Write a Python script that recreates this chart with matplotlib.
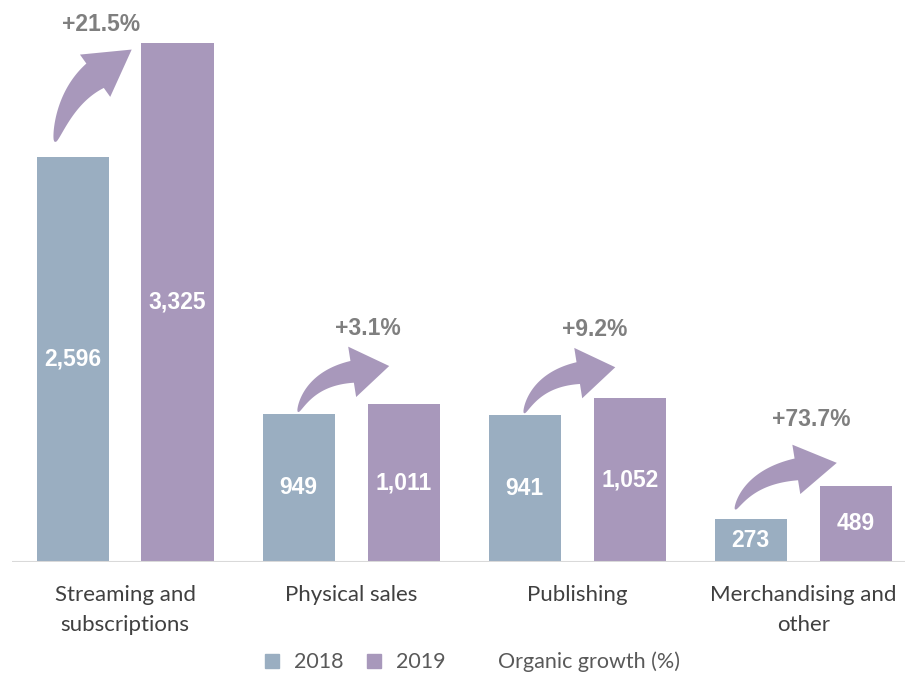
import matplotlib
matplotlib.use("Agg")
import matplotlib.pyplot as plt
from matplotlib.patches import Patch, Polygon
import numpy as np

categories = ["Streaming and\nsubscriptions", "Physical sales", "Publishing", "Merchandising and\nother"]
v2018 = [2596, 949, 941, 273]
v2019 = [3325, 1011, 1052, 489]
growth = ["+21.5%", "+3.1%", "+9.2%", "+73.7%"]
series_names = ["2018", "2019"]

c2018 = "#9aaec1"
c2019 = "#a898bb"
bold_font = ["Liberation Sans", "DejaVu Sans"]
body = ["Lato", "DejaVu Sans"]

W, H_FIG = 905, 675
fig = plt.figure(figsize=(W / 100, H_FIG / 100), dpi=100)
ax = fig.add_axes([12 / W, 113 / H_FIG, 893 / W, 562 / H_FIG])
x = np.arange(len(categories))
w = 0.319
off = 0.232
ax.bar(x - off, v2018, w, color=c2018, zorder=2)
ax.bar(x + off, v2019, w, color=c2019, zorder=2)
ax.set_xlim(-0.5, 3.45)
ax.set_ylim(0, 3600)
for s in ax.spines.values():
    s.set_visible(False)
ax.axhline(0, color="#d9d9d9", lw=1.5, zorder=3)
ax.set_yticks([])
ax.set_xticks([])

for xs, vals in ((x - off, v2018), (x + off, v2019)):
    for xi, v in zip(xs, vals):
        ax.text(xi, v / 2, f"{v:,}", ha="center", va="center", color="white",
                fontsize=16.5, fontweight="bold", family=bold_font)

# category labels, one text per line (pixel offsets below the baseline)
px_per_unit = 562 / 3600
for xi, c in zip(x, categories):
    for k, line in enumerate(c.split("\n")):
        ax.text(xi, -(39 + 30 * k) / px_per_unit, line, ha="center", va="baseline",
                color="#404040", fontsize=16, family=body)

# curved arrows: geometry in pixel offsets (y down) relative to the top of the 2018 bar
# (tail offset, control offset, head-base offset, head half width, head length, shaft width)
arrow_geo = [
    ((-17.5, -15), (11.2, -45.4), (40, -66), 26, 45, 30),
    ((-0.5, -2), (13.4, -33.6), (54, -40), 25.5, 37.5, 22),
    ((-0.5, -2), (13.4, -33.6), (54, -40), 25.5, 37.5, 22),
    ((-15.5, -10), (15.6, -32.7), (61, -40), 25, 41, 22),
]
label_off = [(-31, -25), (-21, -38), (-21, -38), (-26, -43)]

fig.canvas.draw()
to_disp = ax.transData
to_data = ax.transData.inverted()
for i in range(len(categories)):
    anchor = to_disp.transform((x[i] - off, v2018[i]))
    (tdx, tdy), (cdx, cdy), (hdx, hdy), hw, hl, sw = arrow_geo[i]
    T = anchor + np.array([tdx, -tdy])
    C = T + np.array([cdx, -cdy])
    Hb = T + np.array([hdx, -hdy])
    ts = np.linspace(0, 1, 50)
    pts = ((1 - ts) ** 2)[:, None] * T + (2 * (1 - ts) * ts)[:, None] * C + (ts ** 2)[:, None] * Hb
    der = (2 * (1 - ts))[:, None] * (C - T) + (2 * ts)[:, None] * (Hb - C)
    der = der / np.linalg.norm(der, axis=1)[:, None]
    nrm = np.column_stack([-der[:, 1], der[:, 0]])
    width = sw * (0.06 + 0.94 * ts ** 0.65)
    left = pts + nrm * (width / 2)[:, None]
    right = pts - nrm * (width / 2)[:, None]
    d = der[-1]
    n = nrm[-1]
    tip = Hb + d * hl
    poly = np.vstack([right, Hb - n * hw, tip, Hb + n * hw, left[::-1]])
    poly_data = to_data.transform(poly)
    ax.add_patch(Polygon(poly_data, closed=True, facecolor=c2019, edgecolor="none", zorder=4))
    lab = tip + np.array([label_off[i][0], -label_off[i][1]])
    lx, ly = to_data.transform(lab)
    ax.text(lx, ly, growth[i], ha="center", va="center", color="#7f7f7f",
            fontsize=16.5, fontweight="bold", family=bold_font)

handles = [Patch(color=c2018), Patch(color=c2019), Patch(facecolor="none", edgecolor="none")]
labels = series_names + ["Organic growth (%)"]
leg = fig.legend(handles, labels, loc="center", bbox_to_anchor=(0.522, 0.019), ncol=3,
                 frameon=False, handlelength=0.65, handleheight=0.65, handletextpad=0.7,
                 columnspacing=1.1, prop={"family": body, "size": 15.5})
for t in leg.get_texts():
    t.set_color("#595959")

fig.savefig("out.png", dpi=100)
